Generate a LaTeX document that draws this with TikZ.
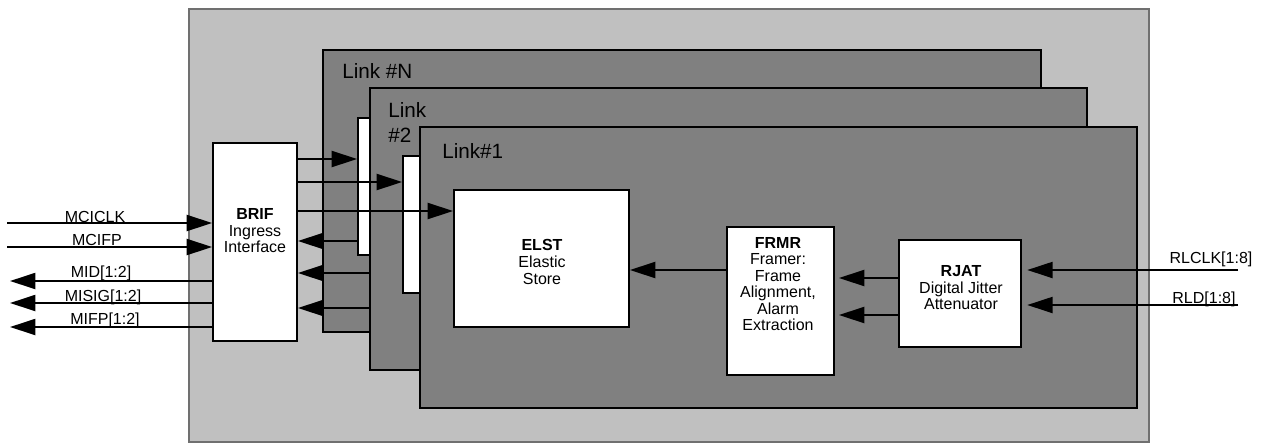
\documentclass[tikz,border=0pt]{standalone}
\usepackage{fontspec}
\setmainfont{Liberation Sans}
\usetikzlibrary{arrows.meta,fit}
\definecolor{chipfill}{RGB}{192,192,192}
\definecolor{chipedge}{RGB}{112,112,112}
\definecolor{linkfill}{RGB}{128,128,128}
\begin{document}
\begin{tikzpicture}[x=0.75pt,y=-0.75pt,
  chipbox/.style={draw=chipedge, fill=chipfill, line width=1.5pt, inner sep=0pt},
  linkbox/.style={draw=black, fill=linkfill, line width=1.4pt, inner sep=0pt},
  wbox/.style={draw=black, fill=white, line width=1.4pt, inner sep=0pt},
  arr/.style={line width=1.5pt, -{Triangle[length=19pt,width=12pt]}},
  boxtext/.style={align=center, inner sep=0pt, font=\fontsize{12}{12.4}\selectfont},
  sigtext/.style={anchor=base, inner sep=0pt, font=\fontsize{12}{12.4}\selectfont},
  linktext/.style={align=left, inner sep=0pt, anchor=north west, font=\fontsize{15.5}{18.75}\selectfont}
]
\useasboundingbox (0,0) rectangle (1267,444);

% chip background
\node[chipbox, fit={(189,9) (1149,442)}] (chip) {};

% link layers
\node[linkbox, fit={(323,50) (1041,332)}] (linkN) {};
\node[wbox, fit={(358,118) (370,255)}] (stripN) {};
\node[linkbox, fit={(370,88) (1087,370)}] (link2) {};
\node[wbox, fit={(403,156) (420,293)}] (strip2) {};
\node[linkbox, fit={(420,127) (1137,408)}] (link1) {};

\node[linktext] (linkNt) at (342,63) {Link \#N};
\node[linktext] (link2t) at (388,102) {Link\\\#2};
\node[linktext] (link1t) at (442,143) {Link\#1};

% blocks
\node[wbox, fit={(213,143) (297,341)}] (brif) {};
\node[wbox, fit={(454,190) (629,327)}] (elst) {};
\node[wbox, fit={(727,227) (834,375)}] (frmr) {};
\node[wbox, fit={(899,240) (1021,347)}] (rjat) {};

\node[boxtext] (brifT) at (255,231) {\textbf{BRIF}\\Ingress\\Interface};
\node[boxtext] (elstT) at (542,262) {\textbf{ELST}\\Elastic\\Store};
\node[boxtext] (frmrT) at (778,284) {\textbf{FRMR}\\Framer:\\Frame\\Alignment,\\Alarm\\Extraction};
\node[boxtext] (rjatT) at (961,288) {\textbf{RJAT}\\Digital Jitter\\Attenuator};

% left side signals
\coordinate (mciclkIn) at (7,223);
\coordinate (mcifpIn) at (7,247);
\coordinate (midOut) at (10,281);
\coordinate (misigOut) at (10,303);
\coordinate (mifpOut) at (10,327);

\draw[arr] (mciclkIn) -- (brif.west |- mciclkIn);
\draw[arr] (mcifpIn) -- (brif.west |- mcifpIn);
\draw[arr] (brif.west |- midOut) -- (midOut);
\draw[arr] (brif.west |- misigOut) -- (misigOut);
\draw[arr] (brif.west |- mifpOut) -- (mifpOut);

\node[sigtext] (mciclkL) at (95,222) {MCICLK};
\node[sigtext] (mcifpL) at (97,245) {MCIFP};
\node[sigtext] (midL) at (101,277) {MID[1:2]};
\node[sigtext] (misigL) at (103,301) {MISIG[1:2]};
\node[sigtext] (mifpL) at (105,324) {MIFP[1:2]};

% BRIF to links
\draw[arr] (brif.east |- 0,159) -- (stripN.west |- 0,159);
\draw[arr] (brif.east |- 0,182) -- (strip2.west |- 0,182);
\draw[arr] (brif.east |- 0,211) -- (elst.west |- 0,211);
\draw[arr] (stripN.west |- 0,241) -- (brif.east |- 0,241);
\draw[arr] (link2.west |- 0,273) -- (brif.east |- 0,273);
\draw[arr] (link2.west |- 0,308) -- (brif.east |- 0,308);

% inside link 1
\draw[arr] (frmr.west |- 0,270) -- (elst.east |- 0,270);
\draw[arr, shorten >=3pt] (rjat.west |- 0,278) -- (frmr.east |- 0,278);
\draw[arr, shorten >=3pt] (rjat.west |- 0,315) -- (frmr.east |- 0,315);

% right side signals
\coordinate (rlclkIn) at (1238,270);
\coordinate (rldIn) at (1238,305);
\draw[arr, shorten >=4pt] (rlclkIn) -- (rjat.east |- rlclkIn);
\draw[arr, shorten >=4pt] (rldIn) -- (rjat.east |- rldIn);
\node[sigtext] (rlclkL) at (1211,263) {RLCLK[1:8]};
\node[sigtext] (rldL) at (1204,303) {RLD[1:8]};
\end{tikzpicture}
\end{document}
